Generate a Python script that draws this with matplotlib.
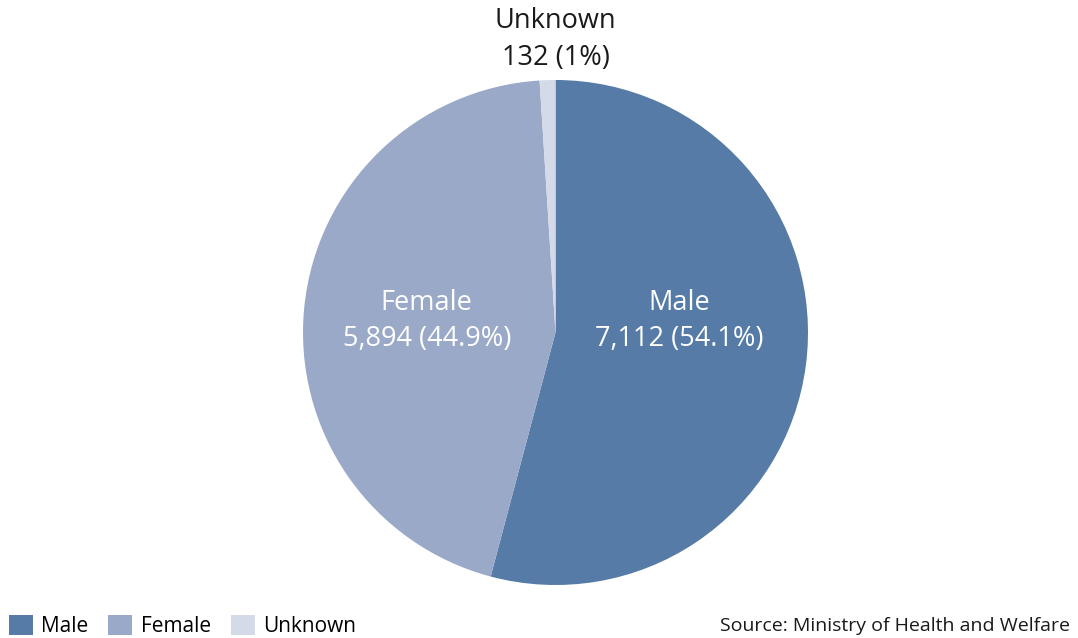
import matplotlib.pyplot as plt
from matplotlib.patches import Patch

# data
categories = ['Male', 'Female', 'Unknown']
counts = [7112, 5894, 132]
shares = ['54.1%', '44.9%', '1%']
colors = ['#557ba6', '#9aa9c7', '#d5dae8']
source = 'Source: Ministry of Health and Welfare'

plt.rcParams['font.family'] = ['Open Sans', 'DejaVu Sans']

fig = plt.figure(figsize=(10.78, 6.38), dpi=100)
ax = fig.add_axes([303 / 1078, 53 / 638, 505 / 1078, 505 / 638])

ax.pie(counts, colors=colors, startangle=90, counterclock=False,
       radius=1.0, wedgeprops=dict(linewidth=0))
ax.set_xlim(-1, 1)
ax.set_ylim(-1, 1)
ax.set_aspect('equal')
ax.axis('off')

# slice labels
label_pos = [(0.49, 0.045, 'white'), (-0.51, 0.045, 'white'), (0.0, 1.16, '#1a1a1a')]
for cat, n, s, (x, y, c) in zip(categories, counts, shares, label_pos):
    ax.text(x, y, f'{cat}\n{n:,} ({s})', ha='center', va='center',
            fontsize=19.5, color=c, linespacing=1.4, clip_on=False)

handles = [Patch(facecolor=c, edgecolor='none') for c in colors]
fig.legend(handles, categories, loc='lower left', bbox_to_anchor=(8 / 1078, 0.0),
           borderaxespad=0, borderpad=0.05, ncol=3, frameon=False, fontsize=15,
           handlelength=1.15, handleheight=1.1, columnspacing=0.95,
           handletextpad=0.4)

fig.text(0.993, 0.004, source, ha='right', va='bottom', fontsize=14, color='#1a1a1a')

fig.savefig('out.png', dpi=100, facecolor='white')
